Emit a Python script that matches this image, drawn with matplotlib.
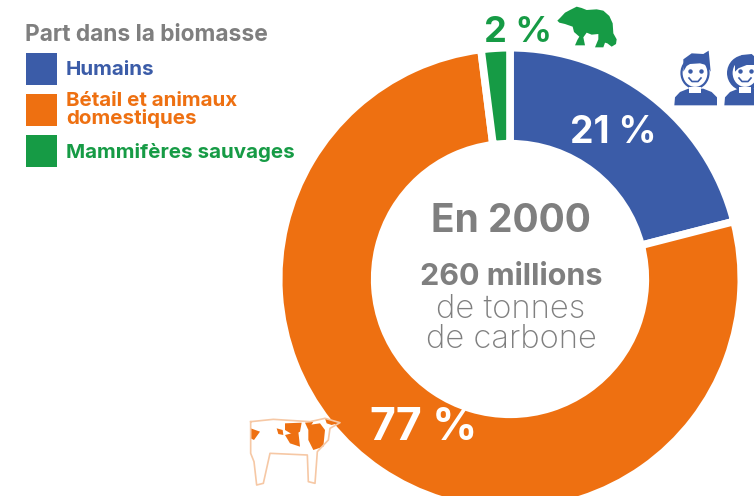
import matplotlib
matplotlib.use("Agg")
import matplotlib.pyplot as plt
from matplotlib.patches import Rectangle, Polygon, Circle, Ellipse

plt.rcParams['font.family'] = ['Inter', 'DejaVu Sans']

categories = ["Humains", "Bétail et animaux\ndomestiques", "Mammifères sauvages"]
values = [21, 77, 2]
value_labels = ["21 %", "77 %", "2 %"]
colors = ["#3b5ca8", "#ee7011", "#169b45"]
grey = "#7f7f7f"

W, H = 754, 496


def py(y):
    # picture rows run downwards, the axes run upwards
    return H - y


def zoom_pts(pts, x0, y0):
    return [(x0 + x / 3, py(y0 + y / 3)) for x, y in pts]


fig = plt.figure(figsize=(W / 100, H / 100), dpi=100)
ax = fig.add_axes([0, 0, 1, 1])

ax.pie(values, colors=colors, startangle=90, counterclock=False,
       center=(510, py(279)), radius=231.3,
       wedgeprops=dict(width=96, edgecolor="white", linewidth=5.5))
ax.set_xlim(0, W)
ax.set_ylim(0, H)
ax.set_aspect("equal")
ax.axis("off")

# legend
ax.text(25, py(35), "Part dans la biomasse", color=grey, fontsize=16.4,
        fontweight="bold", va="center", ha="left")
box_y = [53, 94, 135]
text_y = [70, 110, 152]
for c, cat, by, ty in zip(colors, categories, box_y, text_y):
    ax.add_patch(Rectangle((26, py(by + 32)), 31, 32, color=c, lw=0))
    ax.text(66, py(ty), cat, color=c, fontsize=14.8, fontweight="bold",
            va="center", ha="left", linespacing=0.98)

# values on the ring
ax.text(613, py(133), value_labels[0], color="white", fontsize=27,
        fontweight="bold", ha="center", va="center")
ax.text(424, py(428), value_labels[1], color="white", fontsize=32,
        fontweight="bold", ha="center", va="center")
ax.text(518, py(32), value_labels[2], color=colors[2], fontsize=26,
        fontweight="bold", ha="center", va="center")

# centre
ax.text(511, py(222), "En 2000", color=grey, fontsize=28, fontweight="bold",
        ha="center", va="center")
ax.text(511, py(277), "260 millions", color=grey, fontsize=22, fontweight="bold",
        ha="center", va="center")
ax.text(511, py(309), "de tonnes", color=grey, fontsize=23.6, fontweight="light",
        ha="center", va="center")
ax.text(511, py(340), "de carbone", color=grey, fontsize=23.6, fontweight="light",
        ha="center", va="center")

# bear icon
bear = [(262, 62), (272, 52), (285, 38), (300, 30), (320, 20), (335, 24), (350, 30),
        (380, 28), (400, 32), (418, 48), (428, 70), (430, 100), (440, 118), (438, 132),
        (425, 140), (412, 130), (405, 128), (400, 142), (375, 142), (385, 118), (385, 102),
        (365, 104), (350, 98), (340, 112), (345, 136), (315, 136), (322, 120), (328, 110),
        (312, 96), (308, 80), (285, 72), (268, 68)]
ax.add_patch(Polygon(zoom_pts(bear, 470, 0), color=colors[2], lw=0))

# people icons
blue = colors[0]
for dx, hair_long in [(0, False), (50, True)]:
    body = [(613, 316), (615, 292), (630, 276), (655, 266), (700, 266), (725, 276),
            (741, 292), (741, 316)]
    ax.add_patch(Polygon(zoom_pts(body, 470 + dx, 0), color=blue, lw=0))
    if hair_long:
        ax.add_patch(Circle((695 + dx, py(73)), 18, color=blue, lw=0))
        hair_top = [(645, 215), (645, 185), (665, 165), (695, 162), (715, 180), (718, 215),
                    (705, 195), (680, 195), (655, 205)]
    else:
        hair_top = [(640, 215), (640, 178), (665, 160), (700, 162), (716, 152), (722, 215),
                    (708, 195), (690, 190), (660, 192), (650, 198)]
    ax.add_patch(Ellipse((695 + dx, py(73)), 27, 30, facecolor="white", edgecolor=blue, lw=1.6))
    ax.add_patch(Polygon(zoom_pts(hair_top, 470 + dx, 0), color=blue, lw=0))
    ax.add_patch(Rectangle((689 + dx, py(93)), 12, 6, color="white", lw=0))
    ax.plot([689.5 + dx, 700.5 + dx], [py(71), py(71)], marker="o", ms=2.2, color=blue, ls="none")
    ax.plot([689 + dx, 692 + dx, 698 + dx, 701 + dx],
            [py(78), py(81.5), py(81.5), py(78)], color=blue, lw=1.2)

# cow icon
cow_line = [(62, 95), (130, 88), (240, 95), (285, 85), (330, 98), (300, 115), (295, 150),
            (262, 185), (255, 280), (235, 275), (232, 195), (120, 190), (100, 280),
            (80, 285), (72, 215), (62, 190), (62, 95)]
cow_xy = zoom_pts(cow_line, 230, 390)
ax.plot([p[0] for p in cow_xy], [p[1] for p in cow_xy], color="#f6c8a5", lw=1.2)
spots = [
    [(235, 105), (270, 100), (285, 120), (280, 170), (250, 180), (235, 150)],
    [(165, 100), (215, 98), (210, 125), (190, 135), (165, 120)],
    [(140, 115), (158, 120), (160, 135), (145, 132)],
    [(165, 135), (205, 125), (210, 170), (180, 160)],
    [(62, 115), (90, 125), (72, 150), (62, 145)],
    [(225, 98), (250, 95), (235, 120)],
    [(285, 85), (330, 98), (305, 105), (290, 100)],
]
for s in spots:
    ax.add_patch(Polygon(zoom_pts(s, 230, 390), color=colors[1], lw=0))

fig.savefig("out.png", dpi=100)
